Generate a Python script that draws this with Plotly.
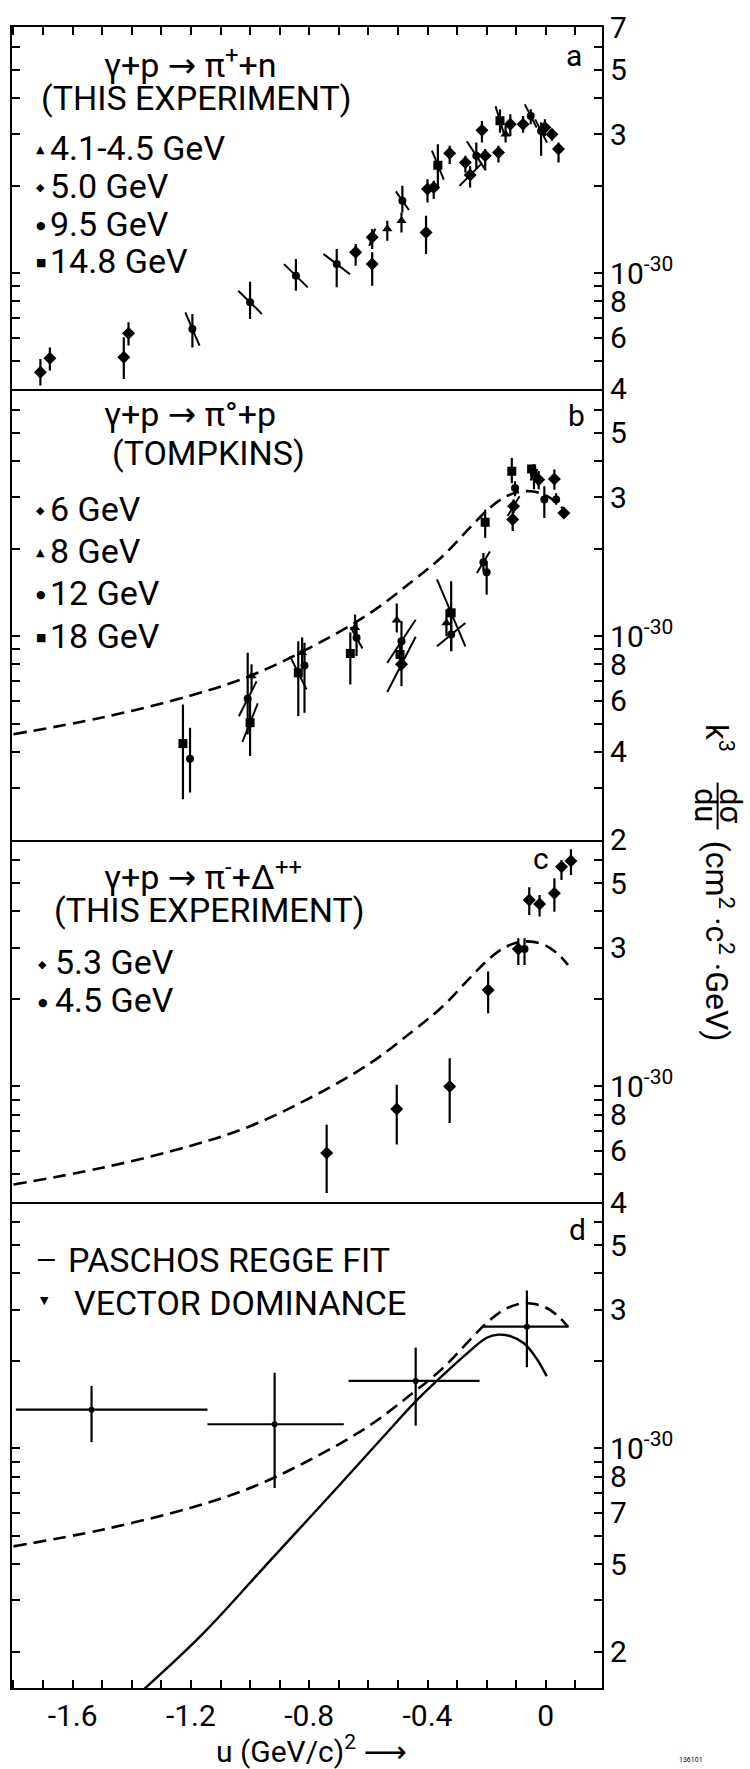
import math
import plotly.graph_objects as go

# ---------------- data (cross sections in units of 1e-30 cm^2 c^2 GeV) ----------------
# panel a : gamma p -> pi+ n (this experiment)
a_u = [-1.709, -1.677, -1.427, -1.411, -1.195, -1.000, -0.845, -0.707, -0.643, -0.587, -0.587, -0.536,
       -0.488, -0.485, -0.405, -0.400, -0.379, -0.365, -0.325, -0.272, -0.256, -0.235, -0.216, -0.205,
       -0.160, -0.155, -0.136, -0.120, -0.077, -0.051, -0.016, -0.003, 0.021, 0.043]
a_v = [0.456, 0.509, 0.513, 0.621, 0.642, 0.793, 0.979, 1.074, 1.178, 1.327, 1.074, 1.417,
       1.513, 1.773, 1.380, 1.944, 1.970, 2.350, 2.585, 2.400, 2.172, 2.530, 3.100, 2.530,
       2.600, 3.340, 3.000, 3.250, 3.250, 3.470, 3.080, 3.170, 3.000, 2.670]
a_hi = [0.506, 0.555, 0.601, 0.677, 0.723, 0.934, 1.117, 1.209, 1.258, 1.417, 1.178, 1.513,
        1.616, 1.995, 1.574, 2.104, 2.076, 2.775, 2.739, 2.530, 2.338, 2.810, 3.337, 2.670,
        2.740, 3.660, 3.210, 3.520, 3.470, 3.660, 3.300, 3.380, 3.130, 2.810]
a_lo = [0.410, 0.462, 0.432, 0.563, 0.555, 0.695, 0.869, 0.893, 1.060, 1.210, 0.905, 1.292,
        1.380, 1.616, 1.162, 1.750, 1.796, 1.944, 2.370, 2.218, 1.970, 2.277, 2.810, 2.280,
        2.400, 3.040, 2.810, 2.960, 3.040, 3.250, 2.530, 2.960, 2.850, 2.400]
a_energy = ["5.0", "5.0", "5.0", "5.0", "9.5", "9.5", "9.5", "9.5", "5.0", "5.0", "5.0", "4.1-4.5",
            "4.1-4.5", "9.5", "5.0", "5.0", "5.0", "14.8", "5.0", "5.0", "5.0", "9.5", "5.0", "5.0",
            "5.0", "14.8", "4.1-4.5", "5.0", "5.0", "9.5", "9.5", "5.0", "5.0", "5.0"]
# slanted resolution bars: half extent in u and in log10(value) (0 = none)
a_sl_du = [0, 0, 0, 0, 0.024, 0.040, 0.040, 0.045, 0, -0.010, 0, 0,
           0, 0.022, 0, 0, 0, 0.020, 0, 0, -0.036, 0.032, 0, 0,
           0, 0.015, 0, 0, 0, 0.020, 0.020, 0, 0, 0]
a_sl_dl = [0, 0, 0, 0, 0.057, 0.040, 0.040, 0.035, 0, 0.030, 0, 0,
           0, 0.032, 0, 0, 0, 0.050, 0, 0, 0.037, 0.050, 0, 0,
           0, 0.050, 0, 0, 0, 0.040, 0.040, 0, 0, 0]

# panel b : gamma p -> pi0 p (Tompkins)
b_u = [-1.227, -1.203, -1.008, -1.000, -0.995, -0.837, -0.816, -0.824, -0.661, -0.645, -0.640,
       -0.504, -0.488, -0.493, -0.488, -0.336, -0.320, -0.320, -0.205, -0.211, -0.200, -0.115,
       -0.104, -0.109, -0.112, -0.048, -0.040, -0.024, -0.005, 0.029, 0.035, 0.061]
b_v = [0.427, 0.379, 0.609, 0.504, 0.729, 0.748, 0.793, 0.877, 0.872, 1.069, 0.987,
       1.135, 0.961, 0.865, 0.800, 1.110, 1.203, 1.013, 2.465, 1.796, 1.660, 3.690,
       3.236, 2.800, 2.520, 3.760, 3.590, 3.450, 2.950, 3.470, 2.950, 2.650]
b_hi = [0.582, 0.484, 0.877, 0.606, 0.800, 0.960, 0.949, 0.990, 1.030, 1.187, 1.110,
        1.295, 1.126, 0.980, 0.974, 1.235, 1.545, 1.160, 2.724, 1.933, 1.810, 4.100,
        3.410, 2.950, 2.690, 3.890, 3.900, 3.700, 3.280, 3.740, 3.100, 2.780]
b_lo = [0.275, 0.290, 0.459, 0.387, 0.650, 0.531, 0.545, 0.780, 0.682, 0.987, 0.854,
        1.030, 0.850, 0.760, 0.673, 1.000, 0.888, 0.888, 2.178, 1.672, 1.390, 3.360,
        3.030, 2.650, 2.300, 3.450, 3.200, 3.200, 2.550, 3.190, 2.830, 2.550]
b_energy = ["18", "12", "12", "18", "8", "18", "12", "8", "18", "8", "12",
            "8", "12", "18", "6", "8", "18", "12", "18", "12", "12", "18",
            "12", "6", "6", "18", "12", "6", "12", "6", "12", "6"]
b_sl_du = [0, 0, -0.030, -0.026, 0, 0.028, 0, 0, 0, 0, 0.020,
           0, -0.048, 0, -0.048, 0, 0.048, -0.048, 0, -0.022, 0, 0,
           0, -0.020, 0, 0, -0.012, 0, 0, 0, 0, 0]
b_sl_dl = [0, 0, 0.060, 0.066, 0, 0.057, 0, 0, 0, 0, 0.037,
           0, 0.074, 0, 0.095, 0, 0.115, 0.040, 0, 0.037, 0, 0,
           0, 0.034, 0, 0, 0.020, 0, 0, 0, 0, 0]

# panel c : gamma p -> pi- Delta++ (this experiment)
c_u = [-0.741, -0.504, -0.325, -0.195, -0.093, -0.072, -0.056, -0.021, 0.029, 0.053, 0.085]
c_v = [0.590, 0.836, 1.000, 2.148, 2.972, 2.972, 4.380, 4.240, 4.620, 5.700, 5.960]
c_hi = [0.738, 1.013, 1.251, 2.484, 3.236, 3.236, 4.840, 4.560, 5.200, 6.010, 6.540]
c_lo = [0.430, 0.631, 0.748, 1.786, 2.618, 2.618, 3.890, 3.840, 3.990, 5.130, 5.340]
c_energy = ["5.3", "5.3", "5.3", "5.3", "5.3", "4.5", "5.3", "5.3", "5.3", "5.3", "5.3"]

# panel d : vector dominance points with u-bins
d_u = [-1.536, -0.917, -0.440, -0.064]
d_v = [1.358, 1.210, 1.706, 2.620]
d_u_lo = [-1.792, -1.144, -0.667, -0.216]
d_u_hi = [-1.144, -0.683, -0.224, 0.077]
d_v_hi = [1.640, 1.820, 2.220, 3.490]
d_v_lo = [1.050, 0.730, 1.197, 1.900]

# Paschos Regge fit (solid, panel d)
regge_u = [-1.360, -1.160, -0.936, -0.712, -0.552, -0.440, -0.344, -0.264, -0.200, -0.160,
           -0.120, -0.072, -0.032, 0.003]
regge_v = [0.148, 0.230, 0.407, 0.720, 1.089, 1.450, 1.800, 2.130, 2.400, 2.460,
           2.430, 2.290, 2.040, 1.770]

# dashed curve (panels b, c, d)
dash_u = [-1.80, -1.50, -1.20, -1.00, -0.80, -0.60, -0.45, -0.35, -0.25, -0.20, -0.15,
          -0.10, -0.05, 0.00, 0.04, 0.075]
dash_v = [0.460, 0.525, 0.625, 0.730, 0.910, 1.190, 1.550, 1.880, 2.400, 2.700, 2.960,
          3.120, 3.150, 3.050, 2.860, 2.620]

# axis ranges / ticks
u_range = [-1.805, 0.19]
u_tick_labels = {-1.6: "-1.6", -1.2: "-1.2", -0.8: "-0.8", -0.4: "-0.4", 0.0: "0"}
y_ranges = {"a": (0.4, 7.02), "b": (0.2, 7.09), "c": (0.4, 7.07), "d": (0.15, 7.02)}
SUP = "10<sup>-30</sup>"
y_labels = {
    "a": {0.4: "4", 0.6: "6", 0.8: "8", 1: SUP, 3: "3", 5: "5", 7: "7"},
    "b": {0.2: "2", 0.4: "4", 0.6: "6", 0.8: "8", 1: SUP, 3: "3", 5: "5"},
    "c": {0.4: "4", 0.6: "6", 0.8: "8", 1: SUP, 3: "3", 5: "5"},
    "d": {0.2: "2", 0.4: "5", 0.6: "7", 0.8: "8", 1: SUP, 3: "3", 5: "5"},
}

# ---------------- layout geometry ----------------
W, H = 750, 1769
L, R, T, B = 10, 602, 26, 1688
FONT = "Roboto, 'DejaVu Sans', sans-serif"
BLACK = "black"
TICKFONT = dict(family=FONT, size=30, color=BLACK)


def px(x):
    return (x - L) / (R - L)


def py(y):
    return (B - y) / (B - T)


order = ["a", "b", "c", "d"]
spans = {k: math.log10(y_ranges[k][1] / y_ranges[k][0]) for k in order}
total = sum(spans.values())
domains = {}
top = 1.0
for k in order:
    bot = top - spans[k] / total
    domains[k] = [max(bot, 0.0), top]
    top = bot

fig = go.Figure()
axis_id = {"a": "", "b": "2", "c": "3", "d": "4"}
symbols = {"4.1-4.5": "triangle-up", "5.0": "diamond", "9.5": "circle", "14.8": "square",
           "6": "diamond", "8": "triangle-up", "12": "circle", "18": "square",
           "5.3": "diamond", "4.5": "circle"}
msize = {"triangle-up": 9, "diamond": 10, "circle": 8, "square": 9}


def add_points(panel, u, v, hi, lo, energy):
    ax = axis_id[panel]
    for e in dict.fromkeys(energy):
        idx = [i for i, ee in enumerate(energy) if ee == e]
        fig.add_trace(go.Scatter(
            x=[u[i] for i in idx], y=[v[i] for i in idx], mode="markers",
            xaxis="x" + ax, yaxis="y" + ax, showlegend=False,
            marker=dict(symbol=symbols[e], size=msize[symbols[e]], color=BLACK),
            error_y=dict(type="data", symmetric=False,
                         array=[hi[i] - v[i] for i in idx],
                         arrayminus=[v[i] - lo[i] for i in idx],
                         color=BLACK, thickness=2.2, width=0)))


def add_slants(panel, u, v, du, dl):
    ax = axis_id[panel]
    xs, ys = [], []
    for i in range(len(u)):
        if du[i] == 0:
            continue
        xs += [u[i] - du[i], u[i] + du[i], None]
        ys += [v[i] * 10 ** dl[i], v[i] / 10 ** dl[i], None]
    fig.add_trace(go.Scatter(x=xs, y=ys, mode="lines", xaxis="x" + ax, yaxis="y" + ax,
                             showlegend=False, line=dict(color=BLACK, width=2)))


def add_dash(panel):
    ax = axis_id[panel]
    fig.add_trace(go.Scatter(x=dash_u, y=dash_v, mode="lines", xaxis="x" + ax, yaxis="y" + ax,
                             showlegend=False,
                             line=dict(color=BLACK, width=2.6, dash="13px,7px", shape="spline")))


add_slants("a", a_u, a_v, a_sl_du, a_sl_dl)
add_points("a", a_u, a_v, a_hi, a_lo, a_energy)
add_dash("b")
add_slants("b", b_u, b_v, b_sl_du, b_sl_dl)
add_points("b", b_u, b_v, b_hi, b_lo, b_energy)
add_dash("c")
add_points("c", c_u, c_v, c_hi, c_lo, c_energy)
add_dash("d")
fig.add_trace(go.Scatter(x=regge_u, y=regge_v, mode="lines", xaxis="x4", yaxis="y4",
                         showlegend=False, line=dict(color=BLACK, width=2.4, shape="spline")))
fig.add_trace(go.Scatter(
    x=d_u, y=d_v, mode="markers", xaxis="x4", yaxis="y4", showlegend=False,
    marker=dict(symbol="circle", size=6, color=BLACK),
    error_y=dict(type="data", symmetric=False, array=[h - v for h, v in zip(d_v_hi, d_v)],
                 arrayminus=[v - l for v, l in zip(d_v, d_v_lo)], color=BLACK, thickness=2.2, width=0),
    error_x=dict(type="data", symmetric=False, array=[h - u for h, u in zip(d_u_hi, d_u)],
                 arrayminus=[u - l for u, l in zip(d_u, d_u_lo)], color=BLACK, thickness=2.2, width=0)))

# ---------------- axes ----------------
u_ticks = [round(i / 10, 1) for i in range(-18, 3)]
u_major = [t for t in u_ticks if t in u_tick_labels]
u_minor = [t for t in u_ticks if t not in u_tick_labels]
layout = dict(width=W, height=H, margin=dict(l=L, r=W - R, t=T, b=H - B),
              plot_bgcolor="white", paper_bgcolor="white", showlegend=False,
              font=dict(family=FONT, color=BLACK))
for k in order:
    ax = axis_id[k]
    lo, hi = y_ranges[k]
    ticks = []
    for dec in range(-1, 2):
        for m in range(1, 10):
            t = round(m * 10 ** dec, 6)
            if lo * 0.999 <= t <= hi:
                ticks.append(t)
    major = [t for t in ticks if t in y_labels[k]]
    minor = [t for t in ticks if t not in y_labels[k]]
    layout["yaxis" + ax] = dict(
        type="log", range=[math.log10(lo * 0.999), math.log10(hi)], domain=domains[k],
        anchor="x" + ax, side="right", ticks="inside", ticklen=8, tickwidth=1.8, tickcolor=BLACK,
        mirror="allticks", showline=True, linewidth=2.2, linecolor=BLACK, showgrid=False,
        zeroline=False, tickmode="array", tickvals=major, ticktext=[y_labels[k][t] for t in major],
        tickfont=TICKFONT,
        minor=dict(tickmode="array", tickvals=minor, ticks="inside", ticklen=8, tickwidth=1.8,
                   tickcolor=BLACK, showgrid=False))
    xa = dict(range=u_range, anchor="y" + ax, domain=[0, 1], showline=True, linewidth=2.2,
              linecolor=BLACK, mirror=False, side="bottom", showgrid=False, zeroline=False,
              showticklabels=False, ticks="")
    if k == "a":
        xa.update(side="top", mirror=True, ticks="inside", ticklen=8, tickwidth=1.8, tickcolor=BLACK,
                  tickmode="array", tickvals=u_ticks)
    if k == "d":
        xa.update(ticks="inside", ticklen=8, tickwidth=1.8, tickcolor=BLACK,
                  tickmode="array", tickvals=u_major, ticktext=[u_tick_labels[t] for t in u_major],
                  showticklabels=True, ticklabelstandoff=0, tickfont=TICKFONT,
                  minor=dict(tickmode="array", tickvals=u_minor, ticks="inside", ticklen=8,
                             tickwidth=1.8, tickcolor=BLACK, showgrid=False))
    layout["xaxis" + ax] = xa
fig.update_layout(**layout)

# ---------------- text ----------------
def note(text, x, y, size=34, xanchor="center", angle=0):
    fig.add_annotation(text=text, x=px(x), y=py(y), xref="paper", yref="paper",
                       xanchor=xanchor, yanchor="middle", showarrow=False, textangle=angle,
                       font=dict(family=FONT, size=size, color=BLACK))


TXT = 34
# panel a
note("γ+p → π<sup>+</sup>+n", 189, 62, TXT)
note("(THIS EXPERIMENT)", 195, 97, TXT)
for sym, lab, y in [("▲", "4.1-4.5 GeV", 147), ("◆", "5.0 GeV", 185), ("●", "9.5 GeV", 223),
                    ("■", "14.8 GeV", 260)]:
    note(sym, 39, y + 2, 11)
    note(lab, 46, y, TXT, xanchor="left")
note("a", 574, 55, 30)
# panel b
note("γ+p → π°+p", 189, 413, TXT)
note("(TOMPKINS)", 207, 452, TXT)
for sym, lab, y in [("◆", "6 GeV", 508), ("▲", "8 GeV", 550), ("●", "12 GeV", 592),
                    ("■", "18 GeV", 635)]:
    note(sym, 39, y + 2, 11)
    note(lab, 46, y, TXT, xanchor="left")
note("b", 576, 415, 30)
# panel c
note("γ+p → π<sup>-</sup>+Δ<sup>++</sup>", 100, 875, TXT, xanchor="left")
note("(THIS EXPERIMENT)", 208, 910, TXT)
for sym, lab, y in [("◆", "5.3 GeV", 962), ("●", "4.5 GeV", 1000)]:
    note(sym, 41, y + 2, 11)
    note(lab, 51, y, TXT, xanchor="left")
note("c", 541, 858, 30)
# panel d
note("—", 44, 1260, 26)
note("PASCHOS REGGE FIT", 64, 1260, TXT, xanchor="left")
note("▼", 43, 1300, 11)
note("VECTOR DOMINANCE", 70, 1303, TXT, xanchor="left")
note("d", 577, 1229, 30)

# x title
note("u (GeV/c)<sup>2</sup> ⟶", 213, 1750, 30, xanchor="left")
note("136101", 691, 1760, 7)

# y title (rotated)
note("k<sup>3</sup>", 719, 737, 31, angle=90)
note("dσ", 731, 805, 31, angle=90)
note("du", 706, 805, 31, angle=90)
fig.add_shape(type="line", xref="paper", yref="paper", x0=px(718), x1=px(718), y0=py(782), y1=py(829),
              line=dict(color=BLACK, width=2))
note("(cm<sup>2</sup> ·c<sup>2</sup> ·GeV)", 719, 941, 32, angle=90)

fig.write_html("out.html", config={"displayModeBar": False},
               post_script="document.body.style.margin='0';document.body.style.padding='0';")
